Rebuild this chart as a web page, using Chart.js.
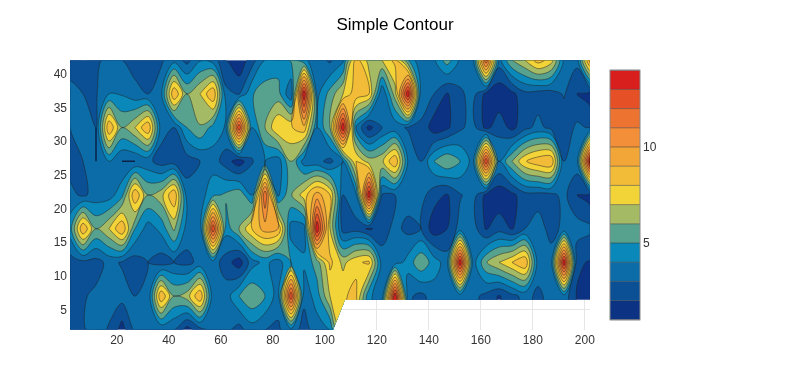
<!DOCTYPE html>
<html>
<head>
<meta charset="utf-8">
<style>
  html, body { margin: 0; padding: 0; background: #fff; }
  #wrap { width: 790px; height: 390px; }
</style>
<script src="https://cdn.jsdelivr.net/npm/chart.js@4"></script>
</head>
<body>
<div id="wrap"><canvas id="myChart" width="790" height="390"></canvas></div>
<script>
const xValues = [2,7,12,17,22,27,32,37,42,47,52,57,62,67,72,77,82,87,92,97,102,107,112,117,122,127,132,137,142,147,152,157,162,167,172,177,182,187,192,197,202];
const yValues = [42,37,32,27,22,17,12,7,2];
const zRows = [
  [2.5,2.3,2.7,3.4,3.0,2.6,2.8,2.8,3.6,2.6,3.9,3.5,2,1.2,2.5,4,4.5,5.1,4.2,3.4,2.8,3.8,8.5,6.5,7,8.3,5,3,3.8,5.5,3.8,3.3,12,3.5,6,7,8.5,7.5,3.7,3.3,9.5],
  [3.3,3,2.9,4,3.9,3.3,3,3.7,9,6,7,9,3.3,2.9,4.9,5.6,5.4,3.1,14,3.7,5.4,7,8.7,8,3,6.5,14,3.3,3,1.9,2.8,3.4,1.7,1.27,1.7,2.7,2.5,2.5,3.1,2,1.5],
  [3,3.3,3,9,6,7,9,3.5,3,5,5.9,4.6,3.9,13,4,6,8,7.9,8.7,4,6,14,4,1.6,3,3.3,2.9,2.9,1.4,1.8,2.8,3.4,1.7,2.6,1.7,2.7,3.3,2.7,2.4,3.2,2.9],
  [2.5,3,3,4,3,3,3.3,2.5,2.5,2.5,3,3.5,2.5,1.4,2.9,4,3.4,6,3.5,3.3,2.7,4,8,6.5,6.8,9,3.9,3,5,5.9,5,3.6,13,4,6,7.9,8.7,9,3,3.6,14],
  [3.3,2.8,3.4,3.5,4.7,9,6,6.6,9,3.5,3.5,4.7,5.2,5.7,4,12,3.8,5.9,7.5,9.5,8,3,3.8,14,2.9,3,3.5,3.4,2.4,1.9,2.9,3.5,1.7,1.27,1.7,2.6,2.6,2.7,3.3,2,1.5],
  [4.5,9,6,7,9,5,3.5,4.3,6.2,3.5,3.2,13,4.4,6,8,9.5,9,3.5,3.5,14,7,2.5,2.6,1.8,2.5,3.3,2.7,3,1.4,2,3.4,3.5,1.9,2.6,1.9,3,3.4,2.7,3.2,3.5,3.2],
  [2.5,2.7,2.6,3.3,2.9,2.5,3,2.5,3,2.7,3.3,3.5,2.5,1.4,3.6,4.3,3.5,5,4.2,5.5,8.3,6.7,7.8,8.2,3.5,3.4,4.4,5.8,4.5,3.5,14,3.5,5.9,7,8,9,3.5,3.4,14,2.2,1.9],
  [2.5,2.9,3.2,3.4,3.4,3,3.1,9,6,6.5,9,3.3,3.5,5,5.9,5,3.5,13,3.3,4.5,7,7.9,8.2,4.2,3.4,14,3.2,2.7,3.5,3.2,3.4,3.3,2.7,1.9,2.7,3.3,2.8,3.3,3.6,1.9,1.9],
  [2,2.9,3.3,2.9,1.5,3.2,3.4,3.1,3,1.5,2.6,3.2,3.2,2.6,3.5,3,2.8,3.6,2.5,3.5,4,null,null,null,null,null,null,null,null,null,null,null,null,null,null,null,null,null,null,null,null]
];
const levels = [1,2,3,4,5,6,7,8,9,10,11,12,13,14];
const bandColors = ['#0c3383','#0b4f95','#0b6ca8','#0a88ba','#57a18f','#a5ba64','#f2d338','#f2bc38','#f2a638','#f28f38','#ec7330','#e55027','#d91e1e'];
const xTicks = [20,40,60,80,100,120,140,160,180,200];
const yTicks = [5,10,15,20,25,30,35,40];
const barTicks = [5,10];
// edge of the missing data, bottom right
const gapX = [103.2,107.8,202];
const gapY = [2,6.45,6.45];
// two short marks where a contour lies along a grid edge
const stubX1 = [12,12];
const stubY1 = [27,32];
const stubX2 = [22,27];
const stubY2 = [27,27];

const fontName = '"Liberation Sans", Arial, sans-serif';

function makeTangent(p, c, n) {
  const d1x = p[0]-c[0], d1y = p[1]-c[1], d2x = n[0]-c[0], d2y = n[1]-c[1];
  const d1a = Math.pow(d1x*d1x+d1y*d1y, 0.25), d2a = Math.pow(d2x*d2x+d2y*d2y, 0.25);
  const nx = d2a*d2a*d1x - d1a*d1a*d2x, ny = d2a*d2a*d1y - d1a*d1a*d2y;
  const den1 = 3*d2a*(d1a+d2a), den2 = 3*d1a*(d1a+d2a);
  return [
    [c[0]+(den1 ? nx/den1 : 0), c[1]+(den1 ? ny/den1 : 0)],
    [c[0]-(den2 ? nx/den2 : 0), c[1]-(den2 ? ny/den2 : 0)]
  ];
}

function addLoop(path, raw) {
  const pts = [];
  raw.forEach(q => {
    const l = pts[pts.length-1];
    if (!l || Math.abs(l[0]-q[0]) + Math.abs(l[1]-q[1]) > 0.01) pts.push(q);
  });
  if (pts.length < 3) return;
  const n = pts.length;
  const tan = pts.map((q, i) => makeTangent(pts[(i+n-1)%n], q, pts[(i+1)%n]));
  path.moveTo(pts[0][0], pts[0][1]);
  for (let i = 1; i <= n; i++) {
    const a = tan[i-1], b = tan[i%n], q = pts[i%n];
    path.bezierCurveTo(a[1][0], a[1][1], b[0][0], b[0][1], q[0], q[1]);
  }
  path.closePath();
}

// marching squares over the grid, with a low ring round it so every loop closes
function contourPath(px, py, z, level) {
  const segs = new Map();
  const nx = px.length, ny = py.length;
  const H = (i, j) => 'h' + i + '_' + j;
  const V = (i, j) => 'v' + i + '_' + j;
  const point = key => {
    const [i, j] = key.slice(1).split('_').map(Number);
    if (key[0] === 'h') {
      const t = (level-z[j][i]) / (z[j][i+1]-z[j][i]);
      return [px[i]+t*(px[i+1]-px[i]), py[j]];
    }
    const t = (level-z[j][i]) / (z[j+1][i]-z[j][i]);
    return [px[i], py[j]+t*(py[j+1]-py[j])];
  };
  for (let j = 0; j < ny-1; j++) {
    for (let i = 0; i < nx-1; i++) {
      const a = z[j][i], b = z[j][i+1], c = z[j+1][i+1], d = z[j+1][i];
      const mask = (a>=level?1:0) | (b>=level?2:0) | (c>=level?4:0) | (d>=level?8:0);
      if (mask === 0 || mask === 15) continue;
      const e = [H(i,j), V(i+1,j), H(i,j+1), V(i,j)];
      const mid = (a+b+c+d)/4 >= level;
      const table = {
        1:[[0,3]], 2:[[1,0]], 4:[[2,1]], 8:[[3,2]], 3:[[1,3]], 6:[[2,0]], 12:[[3,1]], 9:[[0,2]],
        7:[[2,3]], 11:[[1,2]], 13:[[0,1]], 14:[[3,0]],
        5: mid ? [[0,1],[2,3]] : [[0,3],[2,1]],
        10: mid ? [[3,0],[1,2]] : [[1,0],[3,2]]
      };
      table[mask].forEach(s => segs.set(e[s[0]], e[s[1]]));
    }
  }
  const path = new Path2D();
  while (segs.size) {
    const start = segs.keys().next().value;
    const loop = [];
    let key = start;
    while (segs.has(key)) {
      loop.push(point(key));
      const next = segs.get(key);
      segs.delete(key);
      key = next;
    }
    addLoop(path, loop);
  }
  return path;
}

const contourPlugin = {
  id: 'contour',
  beforeDatasetsDraw(chart) {
    const { ctx, chartArea: area, scales } = chart;
    const sx = scales.x, sy = scales.y, sb = scales.bar;

    const px = xValues.map(v => sx.getPixelForValue(v));
    px.unshift(px[0]-0.5);
    px.push(px[px.length-1]+0.5);
    const py = yValues.map(v => sy.getPixelForValue(v));
    py.unshift(py[0]-0.5);
    py.push(py[py.length-1]+0.5);
    // missing cells take the value above them, the clip hides them
    const filled = zRows.map((row, j) => row.map((v, i) => v === null ? zRows[j-1][i] : v));
    const z = filled.map(row => [-1, ...row, -1]);
    const ring = z[0].map(() => -1);
    z.unshift(ring);
    z.push(ring);

    ctx.save();
    ctx.beginPath();
    ctx.moveTo(area.left, area.top);
    ctx.lineTo(area.right, area.top);
    for (let i = gapX.length-1; i >= 0; i--) ctx.lineTo(sx.getPixelForValue(gapX[i]), sy.getPixelForValue(gapY[i]));
    ctx.lineTo(area.left, area.bottom);
    ctx.closePath();
    ctx.clip();

    ctx.fillStyle = bandColors[0];
    ctx.fillRect(area.left, area.top, area.width, area.height);
    const paths = levels.map(l => contourPath(px, py, z, l));
    bandColors.forEach((col, k) => {
      if (k === 0) return;
      ctx.fillStyle = col;
      ctx.fill(paths[k], 'evenodd');
    });
    ctx.beginPath();
    ctx.rect(area.left+0.6, area.top+0.6, area.width-1.2, area.height-1.2);
    ctx.clip();
    ctx.strokeStyle = '#222';
    ctx.lineWidth = 0.5;
    paths.forEach(p => ctx.stroke(p));
    ctx.restore();

    // colour bar
    const barLeft = area.right + 20, barW = 30;
    bandColors.forEach((col, k) => {
      const top = sb.getPixelForValue(levels[k+1]), bot = sb.getPixelForValue(levels[k]);
      ctx.fillStyle = col;
      ctx.fillRect(barLeft, top, barW, bot-top);
    });
    ctx.strokeStyle = '#333';
    ctx.lineWidth = 0.5;
    levels.forEach(l => {
      const y = sb.getPixelForValue(l);
      ctx.beginPath();
      ctx.moveTo(barLeft, y);
      ctx.lineTo(barLeft+barW, y);
      ctx.stroke();
    });
    ctx.strokeStyle = '#888';
    ctx.lineWidth = 1;
    const top = sb.getPixelForValue(levels[levels.length-1]), bot = sb.getPixelForValue(levels[0]);
    ctx.strokeRect(barLeft, top, barW, bot-top);
  }
};

const tickFont = { family: fontName, size: 12 };

new Chart(document.getElementById('myChart'), {
  type: 'scatter',
  data: {
    datasets: [
      { data: stubX1.map((v, i) => ({ x: v, y: stubY1[i] })), showLine: true, pointRadius: 0, borderColor: '#0d2147', borderWidth: 1.5 },
      { data: stubX2.map((v, i) => ({ x: v, y: stubY2[i] })), showLine: true, pointRadius: 0, borderColor: '#0d2147', borderWidth: 1.5 }
    ]
  },
  plugins: [contourPlugin],
  options: {
    responsive: false,
    animation: false,
    plugins: {
      legend: { display: false },
      tooltip: { enabled: false },
      title: {
        display: true,
        text: 'Simple Contour',
        color: '#000',
        font: { family: fontName, size: 17, weight: 'normal' },
        padding: { top: 15, bottom: 24.6 }
      }
    },
    scales: {
      x: {
        type: 'linear', min: 2, max: 202,
        afterBuildTicks: s => { s.ticks = xTicks.map(v => ({ value: v })); },
        afterFit: s => { s.height = 60; },
        grid: { color: '#e6e6e6', drawTicks: false },
        border: { display: false },
        ticks: { color: '#333', font: tickFont, padding: 4, maxRotation: 0, autoSkip: false }
      },
      y: {
        type: 'linear', min: 2, max: 42,
        afterBuildTicks: s => { s.ticks = yTicks.map(v => ({ value: v })); },
        afterFit: s => { s.width = 70; },
        grid: { color: '#e6e6e6', drawTicks: false },
        border: { display: false },
        ticks: { color: '#333', font: tickFont, padding: 3, labelOffset: 1, autoSkip: false }
      },
      bar: {
        type: 'linear', position: 'right', min: 0.48, max: 14.52,
        afterBuildTicks: s => { s.ticks = barTicks.map(v => ({ value: v })); },
        afterFit: s => { s.width = 200; },
        grid: { display: false, drawTicks: false },
        border: { display: false },
        ticks: { color: '#333', font: tickFont, padding: 53, labelOffset: 1, autoSkip: false }
      }
    }
  }
});
</script>
</body>
</html>
